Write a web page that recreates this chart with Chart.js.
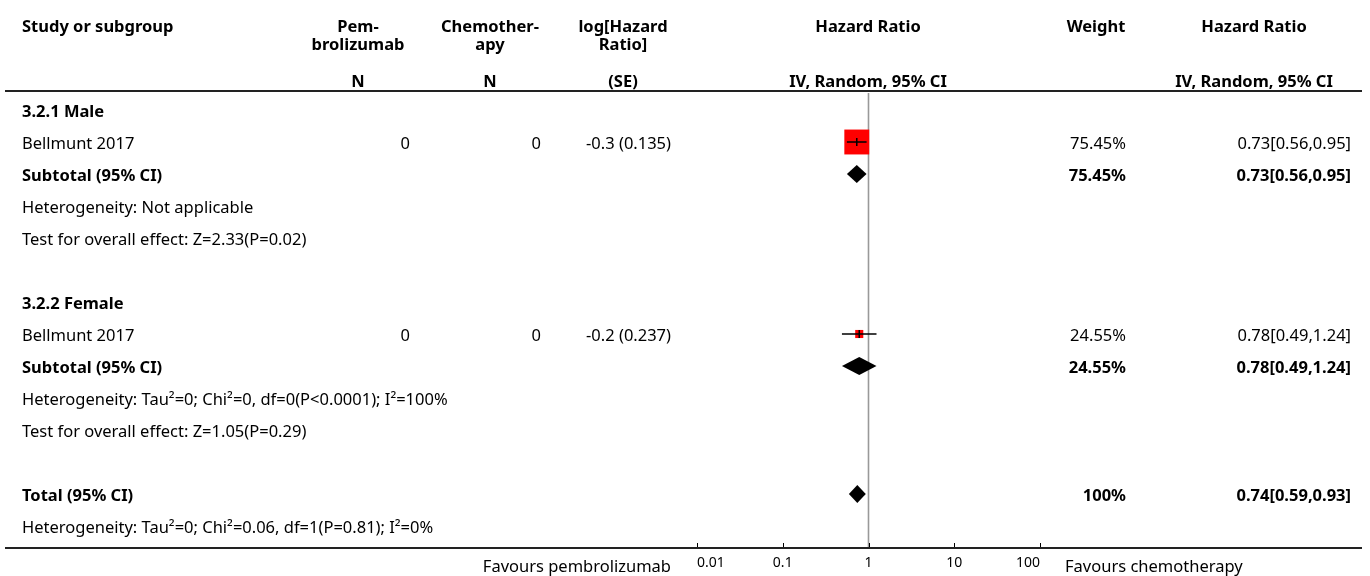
<!DOCTYPE html>
<html>
<head>
<meta charset="utf-8">
<script src="https://cdn.jsdelivr.net/npm/chart.js@4.4.1/dist/chart.umd.min.js"></script>
<style>
  html, body { margin: 0; padding: 0; background: #fff; }
  #wrap { width: 1370px; height: 576px; position: relative; }
</style>
</head>
<body>
<div id="wrap"><canvas id="forest"></canvas></div>
<script>
/* Forest plot — hazard ratio by sex subgroup */
const FONT = '"Noto Sans", "Open Sans", sans-serif';

// rows of the left text column, top to bottom
const rowLabels = [
    '3.2.1 Male',
    'Bellmunt 2017',
    'Subtotal (95% CI)',
    'Heterogeneity: Not applicable',
    'Test for overall effect: Z=2.33(P=0.02)',
    '',
    '3.2.2 Female',
    'Bellmunt 2017',
    'Subtotal (95% CI)',
    'Heterogeneity: Tau²=0; Chi²=0, df=0(P<0.0001); I²=100%',
    'Test for overall effect: Z=1.05(P=0.29)',
    '',
    'Total (95% CI)',
    'Heterogeneity: Tau²=0; Chi²=0.06, df=1(P=0.81); I²=0%',
];
const rowBold = [true, false, true, false, false, false, true, false, true, false, false, false, true, false];

// individual studies
const studyRows = [1, 7];
const studyN1 = ['0', '0'];
const studyN2 = ['0', '0'];
const studyLogSE = ['-0.3 (0.135)', '-0.2 (0.237)'];
const studyHR = [0.73, 0.78];
const studyLo = [0.56, 0.49];
const studyHi = [0.95, 1.24];
const studyWeight = [75.45, 24.55];
const studyWeightText = ['75.45%', '24.55%'];
const studyHRText = ['0.73[0.56,0.95]', '0.78[0.49,1.24]'];

// pooled estimates (subtotals + total)
const poolRows = [2, 8, 12];
const poolHR = [0.73, 0.78, 0.74];
const poolLo = [0.56, 0.49, 0.59];
const poolHi = [0.95, 1.24, 0.93];
const poolWeightText = ['75.45%', '24.55%', '100%'];
const poolHRText = ['0.73[0.56,0.95]', '0.78[0.49,1.24]', '0.74[0.59,0.93]'];

const xTicks = [0.01, 0.1, 1, 10, 100];
const xTickLabels = ['0.01', '0.1', '1', '10', '100'];
const favourLeft = 'Favours pembrolizumab';
const favourRight = 'Favours chemotherapy';

// column headers: [text lines], center x
const headers = [
    { lines: ['Pem-', 'brolizumab'], sub: 'N', x: 358 },
    { lines: ['Chemother-', 'apy'], sub: 'N', x: 490 },
    { lines: ['log[Hazard', 'Ratio]'], sub: '(SE)', x: 623 },
    { lines: ['Hazard Ratio'], sub: 'IV, Random, 95% CI', x: 868 },
    { lines: ['Weight'], sub: '', x: 1096 },
    { lines: ['Hazard Ratio'], sub: 'IV, Random, 95% CI', x: 1254 },
];

const COL = { study: 22, n1: 410, n2: 541, se: 671, weight: 1126, hr: 1351 };
const SIZE = 16.5;
const TEXT_DY = 2.5; // glyphs sit a touch below the mark centre

const tablePlugin = {
    id: 'forestTable',
    beforeDatasetsDraw(chart) {
        const { ctx, chartArea, scales: { x } } = chart;
        ctx.save();
        ctx.strokeStyle = '#999';
        ctx.lineWidth = 1.6;
        const px = x.getPixelForValue(1);
        ctx.beginPath();
        ctx.moveTo(px, chartArea.top + 1);
        ctx.lineTo(px, chartArea.bottom);
        ctx.stroke();
        ctx.restore();
    },
    afterDatasetsDraw(chart) {
        const { ctx, chartArea, scales: { x, y } } = chart;
        ctx.save();

        // whiskers over the squares
        ctx.strokeStyle = '#000';
        ctx.lineWidth = 1.5;
        studyRows.forEach((r, i) => {
            const py = y.getPixelForValue(r);
            const pe = x.getPixelForValue(studyHR[i]);
            ctx.beginPath();
            ctx.moveTo(x.getPixelForValue(studyLo[i]), py);
            ctx.lineTo(x.getPixelForValue(studyHi[i]), py);
            ctx.moveTo(pe, py - 4);
            ctx.lineTo(pe, py + 4);
            ctx.stroke();
        });

        // diamonds
        ctx.fillStyle = '#000';
        poolRows.forEach((r, i) => {
            const py = y.getPixelForValue(r);
            const h = 9;
            ctx.beginPath();
            ctx.moveTo(x.getPixelForValue(poolLo[i]), py);
            ctx.lineTo(x.getPixelForValue(poolHR[i]), py - h);
            ctx.lineTo(x.getPixelForValue(poolHi[i]), py);
            ctx.lineTo(x.getPixelForValue(poolHR[i]), py + h);
            ctx.closePath();
            ctx.fill();
        });

        // tick marks pointing up from the bottom rule
        ctx.strokeStyle = '#000';
        ctx.lineWidth = 1;
        xTicks.forEach((v) => {
            const px = Math.round(x.getPixelForValue(v)) + 0.5;
            ctx.beginPath();
            ctx.moveTo(px, chartArea.bottom);
            ctx.lineTo(px, chartArea.bottom - 5);
            ctx.stroke();
        });

        // rules
        ctx.strokeStyle = '#222';
        ctx.lineWidth = 2;
        ctx.beginPath();
        ctx.moveTo(5, chartArea.top - 1);
        ctx.lineTo(1362, chartArea.top - 1);
        ctx.moveTo(5, chartArea.bottom);
        ctx.lineTo(1362, chartArea.bottom);
        ctx.stroke();

        // headers
        ctx.fillStyle = '#000';
        ctx.textBaseline = 'middle';
        ctx.font = `bold ${SIZE}px ${FONT}`;
        ctx.textAlign = 'left';
        ctx.fillText('Study or subgroup', COL.study, 27);
        ctx.textAlign = 'center';
        headers.forEach((h) => {
            h.lines.forEach((t, k) => ctx.fillText(t, h.x, 27 + k * 18));
            if (h.sub) ctx.fillText(h.sub, h.x, 82);
        });

        // left column rows
        rowLabels.forEach((t, r) => {
            if (!t) return;
            ctx.font = `${rowBold[r] ? 'bold ' : ''}${SIZE}px ${FONT}`;
            ctx.textAlign = 'left';
            ctx.fillText(t, COL.study, y.getPixelForValue(r) + TEXT_DY);
        });

        // study values
        ctx.font = `${SIZE}px ${FONT}`;
        ctx.textAlign = 'right';
        studyRows.forEach((r, i) => {
            const py = y.getPixelForValue(r) + TEXT_DY;
            ctx.fillText(studyN1[i], COL.n1, py);
            ctx.fillText(studyN2[i], COL.n2, py);
            ctx.fillText(studyLogSE[i], COL.se, py);
            ctx.fillText(studyWeightText[i], COL.weight, py);
            ctx.fillText(studyHRText[i], COL.hr, py);
        });

        // pooled values
        ctx.font = `bold ${SIZE}px ${FONT}`;
        poolRows.forEach((r, i) => {
            const py = y.getPixelForValue(r) + TEXT_DY;
            ctx.fillText(poolWeightText[i], COL.weight, py);
            ctx.fillText(poolHRText[i], COL.hr, py);
        });

        // favours labels
        ctx.font = `${SIZE}px ${FONT}`;
        ctx.textAlign = 'right';
        ctx.fillText(favourLeft, COL.se, 567);
        ctx.textAlign = 'left';
        ctx.fillText(favourRight, 1065, 567);

        ctx.restore();
    },
};

new Chart(document.getElementById('forest'), {
    type: 'scatter',
    data: {
        datasets: [{
            data: studyRows.map((r, i) => ({ x: studyHR[i], y: r })),
            pointStyle: 'rect',
            backgroundColor: '#ff0000',
            borderWidth: 0,
            pointRadius: studyWeight.map((w) => (w * 0.33) / Math.SQRT2),
            pointHoverRadius: studyWeight.map((w) => (w * 0.33) / Math.SQRT2),
        }],
    },
    options: {
        responsive: true,
        maintainAspectRatio: false,
        animation: false,
        layout: { padding: { left: 697, right: 330, top: 92, bottom: 0 } },
        plugins: { legend: { display: false }, tooltip: { enabled: false } },
        scales: {
            x: {
                type: 'logarithmic',
                min: 0.01,
                max: 100,
                afterBuildTicks: (s) => { s.ticks = xTicks.map((v) => ({ value: v })); },
                afterFit: (s) => { s.height = 28; },
                grid: { display: false, drawTicks: false },
                border: { display: false },
                ticks: {
                    align: 'inner',
                    padding: 7,
                    maxRotation: 0,
                    autoSkip: false,
                    color: '#000',
                    font: { family: FONT, size: 14 },
                    callback: (v, i) => xTickLabels[i],
                },
            },
            y: {
                type: 'linear',
                display: false,
                reverse: true,
                min: -0.5625,
                max: 13.6875,
            },
        },
    },
    plugins: [tablePlugin],
});
</script>
</body>
</html>
